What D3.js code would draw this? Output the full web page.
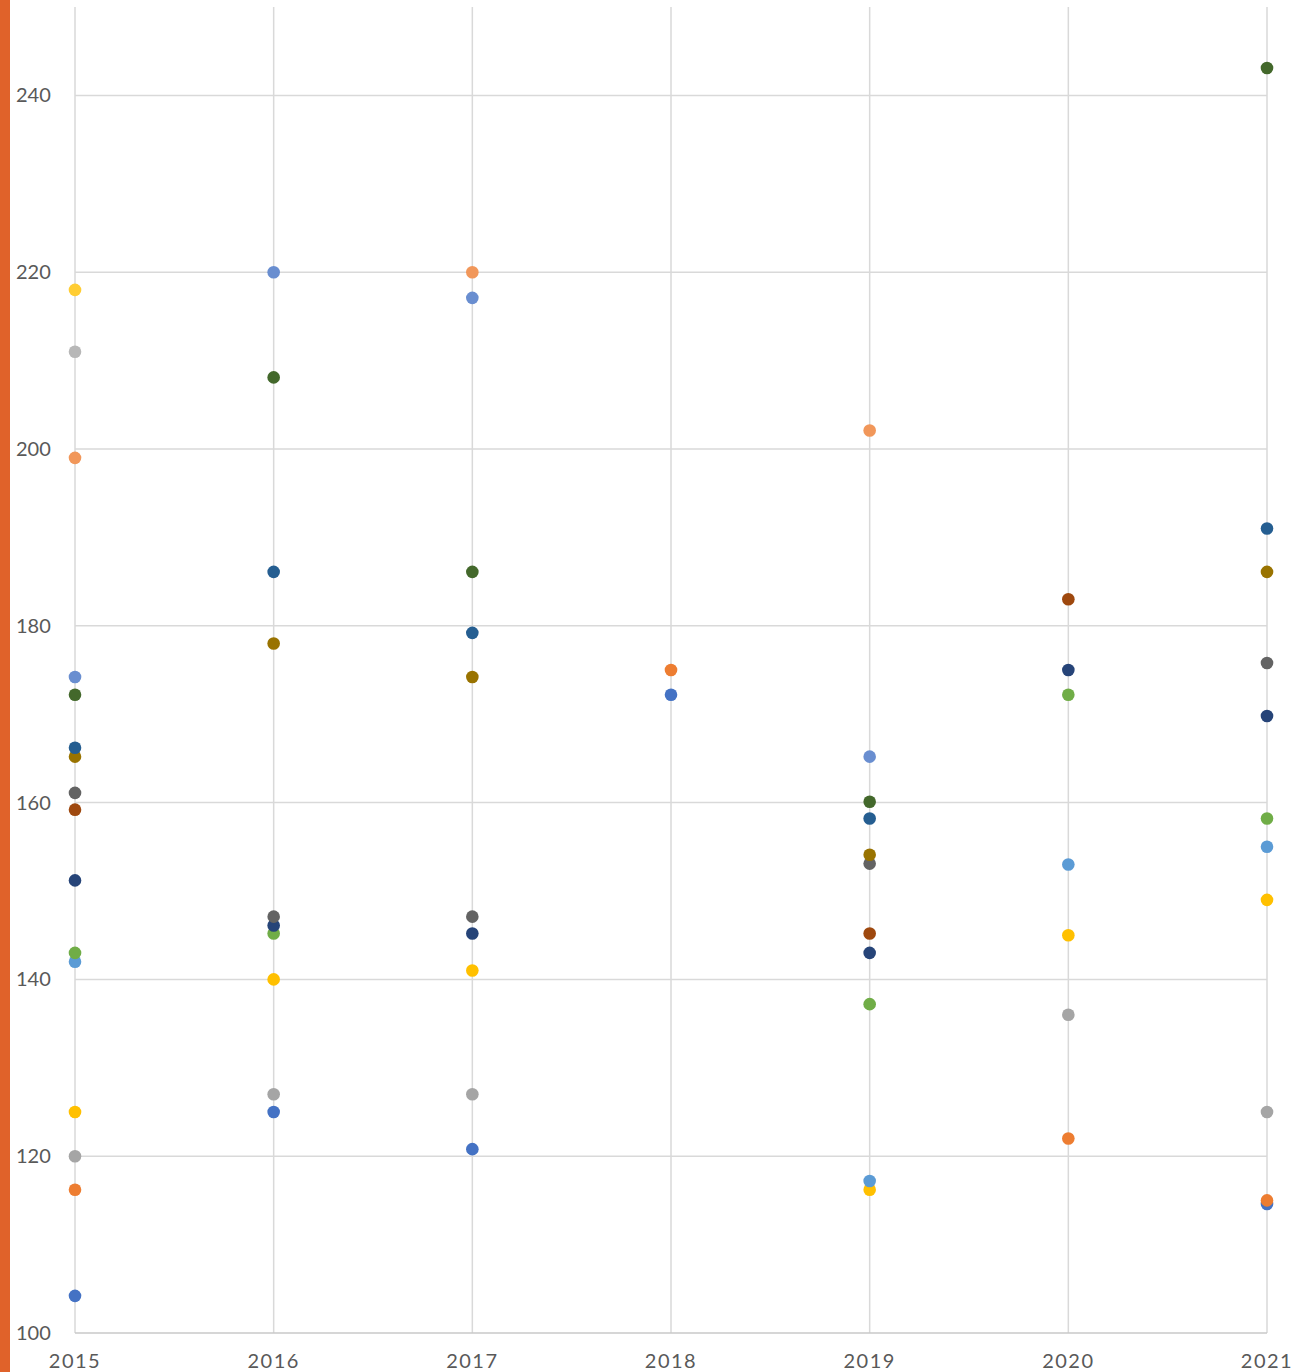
<!DOCTYPE html>
<html>
<head>
<meta charset="utf-8">
<script src="https://cdn.jsdelivr.net/npm/d3@7"></script>
<style>
  body { margin: 0; background: #fff; }
  svg text { font-family: "Lato", "Noto Sans", sans-serif; fill: #595959; }
</style>
</head>
<body>
<svg id="chart" width="1294" height="1372"></svg>
<script>
// Data
const years = [2015, 2016, 2017, 2018, 2019, 2020, 2021];
const yTicks = [100, 120, 140, 160, 180, 200, 220, 240];

const s1  = [104.2, 125, 120.8, 172.2, null, null, 114.6];
const s2  = [116.2, null, null, 175, null, 122, 115];
const s3  = [120, 127, 127, null, null, 136, 125];
const s4  = [125, 140, 141, null, 116.2, 145, 149];
const s5  = [142, null, null, null, 117.2, 153, 155];
const s6  = [143, 145.2, null, null, 137.2, 172.2, 158.2];
const s7  = [151.2, 146.1, 145.2, null, 143, 175, 169.8];
const s8  = [159.2, null, null, null, 145.2, 183, null];
const s9  = [161.1, 147.1, 147.1, null, 153.1, null, 175.8];
const s10 = [165.2, 178, 174.2, null, 154.1, null, 186.1];
const s11 = [166.2, 186.1, 179.2, null, 158.2, null, 191];
const s12 = [172.2, 208.1, 186.1, null, 160.1, null, 243.1];
const s13 = [174.2, 220, 217.1, null, 165.2, null, null];
const s14 = [199, null, 220, null, 202.1, null, null];
const s15 = [211, null, null, null, null, null, null];
const s16 = [218, null, null, null, null, null, null];

const seriesList = [s1, s2, s3, s4, s5, s6, s7, s8, s9, s10, s11, s12, s13, s14, s15, s16];
const colors = ["#4472C4", "#ED7D31", "#A5A5A5", "#FFC000", "#5B9BD5", "#70AD47",
                "#264478", "#9E480E", "#636363", "#997300", "#255E91", "#43682B",
                "#698ED0", "#F1975A", "#B7B7B7", "#FFCD33"];

const svg = d3.select("#chart");

// orange strip on the left edge
svg.append("rect")
    .attr("x", 0).attr("y", 0)
    .attr("width", 10).attr("height", 1372)
    .attr("fill", "#E0622A");

const x = d3.scalePoint().domain(years).range([75, 1267]);
const y = d3.scaleLinear().domain([100, 250]).range([1333, 7]);

// horizontal grid
svg.append("g")
    .selectAll("line")
    .data(yTicks.slice(1))
    .join("line")
    .attr("x1", 75).attr("x2", 1267)
    .attr("y1", d => y(d)).attr("y2", d => y(d))
    .attr("stroke", "#d9d9d9")
    .attr("stroke-width", 1.5);

// vertical grid
svg.append("g")
    .selectAll("line")
    .data(years)
    .join("line")
    .attr("x1", d => x(d)).attr("x2", d => x(d))
    .attr("y1", y(250)).attr("y2", y(100))
    .attr("stroke", "#d9d9d9")
    .attr("stroke-width", 1.5);

// bottom axis line
svg.append("line")
    .attr("x1", 75).attr("x2", 1267)
    .attr("y1", y(100)).attr("y2", y(100))
    .attr("stroke", "#c8c8c8")
    .attr("stroke-width", 1.5);

// y tick labels
svg.append("g")
    .selectAll("text")
    .data(yTicks)
    .join("text")
    .attr("x", 16)
    .attr("y", d => y(d))
    .attr("dy", "0.35em")
    .style("font-size", "20px")
    .text(d => d);

// x tick labels
svg.append("g")
    .selectAll("text")
    .data(years)
    .join("text")
    .attr("x", d => x(d))
    .attr("y", 1368)
    .attr("text-anchor", "middle")
    .style("font-size", "20px")
    .style("letter-spacing", "1.5px")
    .text(d => d);

// dots, later series on top
seriesList.forEach((vals, i) => {
    const pts = vals.map((v, j) => ({ year: years[j], v })).filter(p => p.v !== null);
    svg.append("g")
        .selectAll("circle")
        .data(pts)
        .join("circle")
        .attr("cx", d => x(d.year))
        .attr("cy", d => y(d.v))
        .attr("r", 6.3)
        .attr("fill", colors[i]);
});
</script>
</body>
</html>
